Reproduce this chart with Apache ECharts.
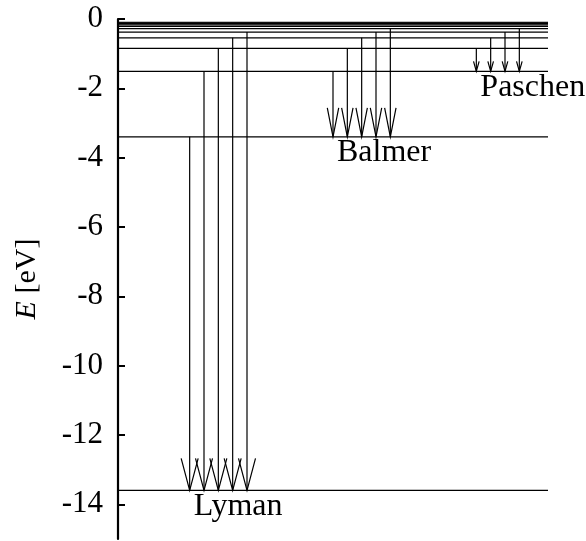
<!DOCTYPE html>
<html>
<head>
<meta charset="utf-8">
<script src="https://cdn.jsdelivr.net/npm/echarts@6/dist/echarts.min.js"></script>
<style>html,body{margin:0;padding:0;background:#fff;}#c{width:586px;height:541px;}</style>
</head>
<body>
<div id="c"></div>
<script>
// Energy levels (eV) for n = 1..12
const levelEnergies = [-13.6, -3.4, -1.51, -0.85, -0.544, -0.378, -0.278, -0.213, -0.168, -0.136, -0.112, -0.094];
const yTickValues = [0, -2, -4, -6, -8, -10, -12, -14];

// Transitions: horizontal slot, upper level n, lower level n
const lymanX = [5, 6, 7, 8, 9];
const lymanFrom = [2, 3, 4, 5, 6];
const lymanTo = 1;
const balmerX = [15, 16, 17, 18, 19];
const balmerFrom = [3, 4, 5, 6, 7];
const balmerTo = 2;
const paschenX = [25, 26, 27, 28];
const paschenFrom = [4, 5, 6, 7];
const paschenTo = 3;

const seriesNames = ['Lyman', 'Balmer', 'Paschen'];

const FONT = '"Liberation Serif", "DejaVu Serif", serif';
const X_MAX = 30;
const LW = 1.2;
const E = n => levelEnergies[n - 1];

function arrowData(xs, froms, to) {
  return xs.map((x, i) => [x, E(froms[i]), E(to)]);
}

const headStyle = {
  Lyman: { len: 32, hw: 8.5 },
  Balmer: { len: 29, hw: 5.7 },
  Paschen: { len: 10, hw: 2.8 }
};

function arrowSeries(name, data) {
  const hs = headStyle[name];
  return {
    type: 'custom',
    name: name,
    silent: true,
    data: data,
    renderItem: function (params, api) {
      const p1 = api.coord([api.value(0), api.value(1)]);
      const p2 = api.coord([api.value(0), api.value(2)]);
      return {
        type: 'group',
        children: [
          { type: 'line', shape: { x1: p1[0], y1: p1[1], x2: p2[0], y2: p2[1] },
            style: { stroke: '#000', lineWidth: LW } },
          { type: 'polyline', shape: { points: [[p2[0] - hs.hw, p2[1] - hs.len], [p2[0], p2[1]], [p2[0] + hs.hw, p2[1] - hs.len]] },
            style: { stroke: '#000', lineWidth: LW, fill: null } }
        ]
      };
    }
  };
}

const labelData = [
  [lymanX[0], E(lymanTo), seriesNames[0]],
  [balmerX[0], E(balmerTo), seriesNames[1]],
  [paschenX[0], E(paschenTo), seriesNames[2]]
];

const chart = echarts.init(document.getElementById('c'), null, { renderer: 'canvas' });
chart.setOption({
  animation: false,
  backgroundColor: '#fff',
  grid: { left: 118, right: 38, top: 19, bottom: 2, containLabel: false },
  xAxis: { type: 'value', min: 0, max: X_MAX, show: false },
  yAxis: {
    type: 'value', min: -15, max: 0,
    name: '{i|E} [eV]',
    nameLocation: 'middle',
    nameRotate: 90,
    nameGap: 76,
    nameTextStyle: { fontFamily: FONT, fontSize: 30, color: '#000',
      rich: { i: { fontFamily: FONT, fontSize: 30, fontStyle: 'italic', color: '#000' } } },
    axisLine: { show: true, onZero: false, lineStyle: { color: '#000', width: 2.2 } },
    axisTick: { show: true, inside: true, length: 7, lineStyle: { color: '#000', width: 2 }, customValues: yTickValues },
    axisLabel: { show: true, margin: 15, fontFamily: FONT, fontSize: 31, color: '#000', customValues: yTickValues,
      formatter: v => String(v) },
    splitLine: { show: false }
  },
  series: [
    {
      type: 'custom', name: 'levels', silent: true,
      data: levelEnergies.map(e => [e]),
      renderItem: function (params, api) {
        const a = api.coord([0, api.value(0)]);
        const b = api.coord([X_MAX, api.value(0)]);
        return { type: 'line', shape: { x1: a[0], y1: a[1], x2: b[0], y2: b[1] },
          style: { stroke: '#000', lineWidth: LW } };
      }
    },
    arrowSeries('Lyman', arrowData(lymanX, lymanFrom, lymanTo)),
    arrowSeries('Balmer', arrowData(balmerX, balmerFrom, balmerTo)),
    arrowSeries('Paschen', arrowData(paschenX, paschenFrom, paschenTo)),
    {
      type: 'custom', name: 'labels', silent: true,
      data: labelData,
      renderItem: function (params, api) {
        const p = api.coord([api.value(0), api.value(1)]);
        return { type: 'text', x: p[0] + 4, y: p[1] + 0,
          style: { text: labelData[params.dataIndex][2], font: '32px ' + FONT, fill: '#000',
            align: 'left', verticalAlign: 'top' } };
      }
    }
  ]
});
</script>
</body>
</html>
